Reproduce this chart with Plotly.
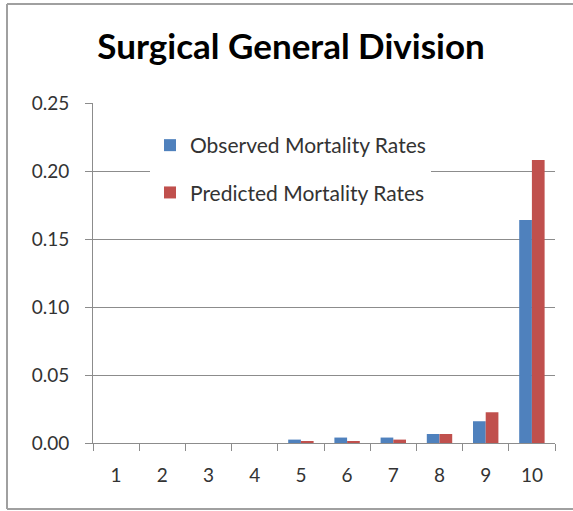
import plotly.graph_objects as go

categories = ["1", "2", "3", "4", "5", "6", "7", "8", "9", "10"]
observed = [0.0, 0.0, 0.0, 0.0, 0.0025, 0.004, 0.004, 0.0066, 0.016, 0.164]
predicted = [0.0, 0.0, 0.0, 0.0, 0.0013, 0.0013, 0.0025, 0.0066, 0.0226, 0.208]
y_ticks = [0.0, 0.05, 0.10, 0.15, 0.20, 0.25]
y_tick_labels = ["0.00", "0.05", "0.10", "0.15", "0.20", "0.25"]

FONT = "Lato, 'Open Sans', sans-serif"
GRID = "#8c8c8c"
TXT = "#333333"

fig = go.Figure()
fig.add_trace(go.Bar(x=categories, y=observed, name="Observed Mortality Rates",
                     marker=dict(color="#4F81BD", line=dict(width=0)), legendgroup="a"))
fig.add_trace(go.Bar(x=categories, y=predicted, name="Predicted Mortality Rates",
                     marker=dict(color="#C0504D", line=dict(width=0)), legendgroup="b"))

W, H = 573, 511
L, R, T, B = 93, 18, 103, 68
pw, ph = W - L - R, H - T - B

def px_x(x):
    return (x - L) / pw

def px_y(y):
    return (H - B - y) / ph

fig.update_layout(
    width=W, height=H,
    margin=dict(l=L, r=R, t=T, b=B),
    paper_bgcolor="white", plot_bgcolor="white",
    font=dict(family=FONT, size=19, color=TXT),
    title=dict(text="<b>Surgical General Division</b>", x=0.508, xanchor="center",
               y=1 - 47 / H, yanchor="middle",
               font=dict(family=FONT, size=35, color="#000000")),
    barmode="group", bargap=0.45, bargroupgap=0,
    showlegend=True,
    legend=dict(x=px_x(150), y=px_y(125), xanchor="left", yanchor="top",
                bgcolor="white", borderwidth=0, tracegroupgap=17,
                font=dict(family=FONT, size=21, color=TXT),
                traceorder="grouped"),
    xaxis=dict(type="category", showline=True, linecolor=GRID, linewidth=1,
               ticks="outside", tickson="boundaries", ticklen=7, tickcolor=GRID,
               showgrid=False, tickfont=dict(size=19, color=TXT),
               ticklabelstandoff=15),
    yaxis=dict(range=[0, 0.25], tickvals=y_ticks, ticktext=y_tick_labels,
               showline=True, linecolor=GRID, linewidth=1, ticks="outside",
               ticklen=7, tickcolor=GRID, showgrid=True, gridcolor=GRID,
               gridwidth=1, zeroline=False, tickfont=dict(size=19, color=TXT),
               ticklabelstandoff=12),
)

BORDER = dict(color="#a0a0a0", width=2)
for (x0, y0, x1, y1) in [(7, 4, 573, 4), (7, 4, 7, 509), (7, 509, 573, 509)]:
    fig.add_shape(type="line", xref="paper", yref="paper",
                  x0=px_x(x0), x1=px_x(x1), y0=px_y(y0), y1=px_y(y1),
                  line=BORDER, layer="below")

fig.write_html("out.html", config={"displayModeBar": False},
               post_script="document.body.style.margin='0';document.body.style.overflow='hidden';")
